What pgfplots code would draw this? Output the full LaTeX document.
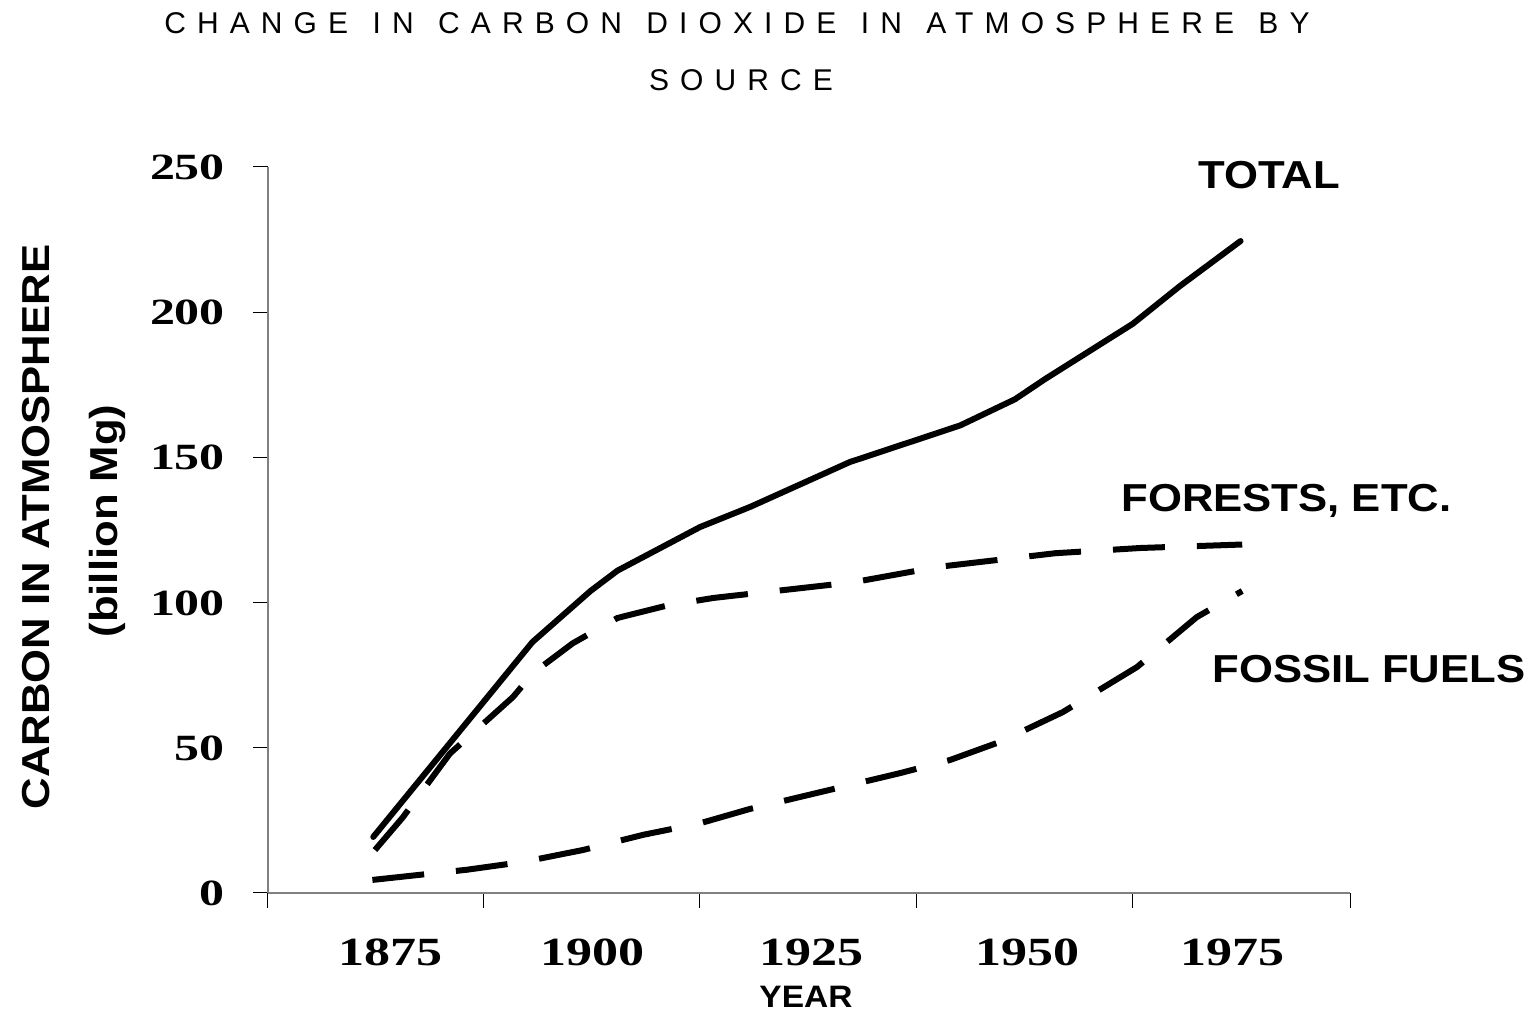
\documentclass[border=0pt]{standalone}
\usepackage{fontspec}
\setmainfont{Liberation Serif}
\newfontfamily\arialfont{Liberation Sans}
\newfontfamily\titlefont{Liberation Sans}[LetterSpace=37]
\usepackage{pgfplots}
\pgfplotsset{compat=1.18}
\newcommand{\serifbf}[1]{\scalebox{1.3}[1]{\bfseries #1}}
\newcommand{\ann}[1]{\scalebox{1.12}[1]{\arialfont\bfseries #1}}
\newcommand{\wg}{\ \hspace{2.5pt}}
\begin{document}
\begin{tikzpicture}
\path[use as bounding box] (-134pt,-59pt) rectangle (631.5pt,446.5pt);
\begin{axis}[
  at={(0pt,0pt)}, anchor=south west,
  scale only axis, width=541pt, height=363pt,
  xmin=1860.5, xmax=1989, ymin=0, ymax=250,
  axis x line*=bottom, axis y line*=left,
  axis line style={draw=gray, line width=1pt, -},
  tick align=outside, major tick length=7.5pt,
  tick style={black, line width=0.5pt},
  xtick={1860.5,1886.15,1911.8,1937.5,1963.2,1989},
  xticklabels={},
  extra x ticks={1875,1899,1925,1950.7,1975},
  extra x tick labels={\serifbf{1875},\serifbf{1900},\serifbf{1925},\serifbf{1950},\serifbf{1975}},
  extra x tick style={major tick length=0pt,
     xticklabel style={anchor=base, yshift=-36.5pt, font=\fontsize{20}{24}\selectfont}},
  ytick={0,50,100,150,200,250},
  yticklabels={0,50,100,150,200,250},
  yticklabel style={anchor=base east, xshift=-10.5pt, yshift=-6.25pt,
     font=\fontsize{18.5}{22}\selectfont},
  yticklabel={\scalebox{1.35}[1]{\bfseries\pgfmathprintnumber{\tick}}},
  /pgf/number format/assume math mode=true,
  clip=false,
]
% TOTAL
\addplot[black, line width=3pt, line cap=round, line join=round] coordinates {
 (1873.0,19.3) (1891.9,86.4) (1898.8,104) (1902.0,111) (1911.8,126)
 (1917.8,133) (1929.6,148.4) (1942.7,161) (1949.2,170) (1952.8,177)
 (1963.2,196) (1968.8,209) (1976.0,224.5)};
% FORESTS, ETC.
\addplot[black, line width=3pt, dash pattern=on 26pt off 16pt] coordinates {
 (1873.2,14.8) (1876.5,26) (1882.1,48) (1889.6,67.5) (1892.0,75.8)
 (1896.7,86) (1902.0,94.7) (1907.9,99) (1913.4,101.6) (1930.0,107)
 (1940.1,112.3) (1954.0,117) (1964.1,118.8) (1976.2,120)};
% FOSSIL FUELS
\addplot[black, line width=3pt, dash pattern=on 26pt off 16pt] coordinates {
 (1872.9,4.5) (1884.1,8) (1890.8,10.7) (1897.9,14.8) (1905.0,20)
 (1911.8,24) (1917.8,29) (1935.6,41.3) (1941.5,45.8) (1947.4,52)
 (1954.9,62.3) (1963.7,77.8) (1970.8,95) (1976.2,104)};
\end{axis}
% title
\node[anchor=base, font=\fontsize{15}{18}\titlefont] at (234.5pt,429.5pt) {CHANGE\wg IN\wg CARBON\wg DIOXIDE\wg IN\wg ATMOSPHERE\wg BY};
\node[anchor=base, font=\fontsize{15}{18}\titlefont] at (236.5pt,401pt) {SOURCE};
% y axis title
\node[anchor=base, rotate=90, font=\fontsize{19.5}{23}\selectfont] at (-109pt,183pt) {\ann{CARBON IN ATMOSPHERE}};
\node[anchor=base, rotate=90, font=\fontsize{19.5}{23}\selectfont] at (-75pt,186pt) {\ann{(billion Mg)}};
% x axis title
\node[anchor=base, font=\fontsize{15.5}{18}\selectfont] at (269pt,-57pt) {\scalebox{1.08}[1]{\arialfont\bfseries YEAR}};
% annotations
\node[anchor=base west, inner sep=0pt, font=\fontsize{19.5}{23}\selectfont] at (465pt,352pt) {\ann{TOTAL}};
\node[anchor=base west, inner sep=0pt, font=\fontsize{19.5}{23}\selectfont] at (426.5pt,190.5pt) {\ann{FORESTS, ETC.}};
\node[anchor=base west, inner sep=0pt, font=\fontsize{19.5}{23}\selectfont] at (472pt,105pt) {\ann{FOSSIL FUELS}};
\end{tikzpicture}
\end{document}
